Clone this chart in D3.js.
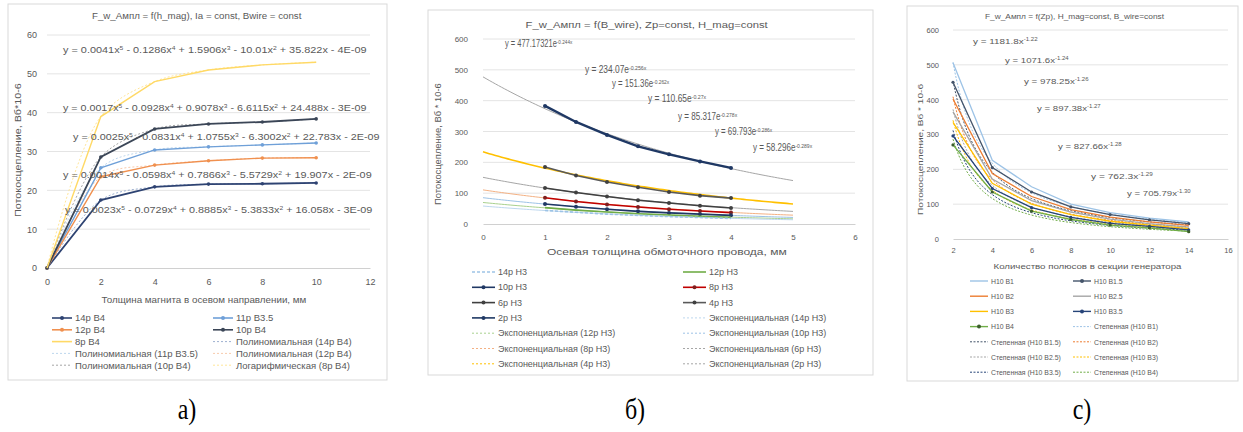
<!DOCTYPE html>
<html><head><meta charset="utf-8">
<script src="https://cdn.jsdelivr.net/npm/d3@7"></script>
<style>
body{margin:0;background:#fff;}
svg{display:block;}
text{white-space:pre;}
</style>
</head><body>
<svg id="chart" width="1243" height="432"></svg>
<script>
// ---------------- DATA ----------------
// Panel a
const aTitle = "F_w_Aмпл = f(h_mag), Ia = const, Bwire = const";
const aXTitle = "Толщина магнита в осевом направлении, мм";
const aYTitle = "Потокосцепление, Вб*10-6";
const aXTicks = [0, 2, 4, 6, 8, 10, 12];
const aYTicks = [0, 10, 20, 30, 40, 50, 60];
const aX = [0, 2, 4, 6, 8, 10];
const aNames = ["14р В4", "11р В3.5", "12р В4", "10р В4", "8р В4"];
const a14 = [0, 17.5, 20.9, 21.6, 21.7, 21.9];
const a11 = [0, 25.8, 30.4, 31.2, 31.7, 32.2];
const a12 = [0, 23.5, 26.5, 27.6, 28.3, 28.4];
const a10 = [0, 28.6, 35.8, 37.1, 37.6, 38.4];
const a8  = [0, 39.0, 48.0, 51.0, 52.3, 53.0];
const aTrendNames = ["Полиномиальная (14р В4)", "Полиномиальная (11р В3.5)", "Полиномиальная (12р В4)", "Полиномиальная (10р В4)", "Логарифмическая (8р В4)"];
const aEquations = [
  "y = 0.0041x^5 - 0.1286x^4 + 1.5906x^3 - 10.01x^2 + 35.822x - 4E-09",
  "y = 0.0017x^5 - 0.0928x^4 + 0.9078x^3 - 6.6115x^2 + 24.488x - 3E-09",
  "y = 0.0025x^5 - 0.0831x^4 + 1.0755x^3 - 6.3002x^2 + 22.783x - 2E-09",
  "y = 0.0014x^5 - 0.0598x^4 + 0.7866x^3 - 5.5729x^2 + 19.907x - 2E-09",
  "y = 0.0023x^5 - 0.0729x^4 + 0.8885x^3 - 5.3833x^2 + 16.058x - 3E-09"
];

// Panel b
const bTitle = "F_w_Aмпл = f(B_wire), Zp=const, H_mag=const";
const bXTitle = "Осевая толщина обмоточного провода, мм";
const bYTitle = "Потокосцепление, Вб * 10-6";
const bXTicks = [0, 1, 2, 3, 4, 5, 6];
const bYTicks = [0, 100, 200, 300, 400, 500, 600];
const bX = [1, 1.5, 2, 2.5, 3, 3.5, 4];
const bNames = ["2р Н3", "4р Н3", "6р Н3", "8р Н3", "10р Н3", "12р Н3", "14р Н3"];
const b2p  = [383, 331, 289, 252, 226, 203, 182];
const b4p  = [185, 157, 136, 119, 104, 92, 84];
const b6p  = [117, 102, 89, 77, 68, 59, 52];
const b8p  = [85, 73, 63, 55, 48, 42, 37];
const b10p = [65, 56, 48, 41, 36, 32, 28];
const b12p = [53, 45, 39, 33, 29, 25, 22];
const b14p = [44, 38, 32, 28, 24, 21, 18];
const bExpA = [477.17321, 234.07, 151.36, 110.65, 85.317, 69.793, 58.296];
const bExpK = [-0.244, -0.256, -0.262, -0.27, -0.278, -0.286, -0.289];
const bEquations = [
  "y = 477.17321e^-0.244x", "y = 234.07e^-0.256x", "y = 151.36e^-0.262x",
  "y = 110.65e^-0.27x", "y = 85.317e^-0.278x", "y = 69.793e^-0.286x", "y = 58.296e^-0.289x"
];

// Panel c
const cTitle = "F_w_Aмпл = f(Zp), H_mag=const, B_wire=const";
const cXTitle = "Количество полюсов в секции генератора";
const cYTitle = "Потокосцепление, Вб * 10-6";
const cXTicks = [2, 4, 6, 8, 10, 12, 14, 16];
const cYTicks = [0, 100, 200, 300, 400, 500, 600];
const cX = [2, 4, 6, 8, 10, 12, 14];
const cNames = ["Н10 В1", "Н10 В1.5", "Н10 В2", "Н10 В2.5", "Н10 В3", "Н10 В3.5", "Н10 В4"];
const cB1  = [506, 226, 150, 100, 76, 60, 49];
const cB15 = [450, 205, 135, 92, 70, 55, 44];
const cB2  = [402, 188, 122, 84, 63, 49, 39];
const cB25 = [365, 172, 110, 77, 57, 44, 34];
const cB3  = [335, 160, 100, 70, 51, 40, 30];
const cB35 = [296, 145, 90, 62, 45, 36, 26];
const cB4  = [270, 135, 80, 56, 40, 32, 21];
const cPowA = [1181.8, 1071.6, 978.25, 897.38, 827.66, 762.3, 705.79];
const cPowB = [-1.22, -1.24, -1.26, -1.27, -1.28, -1.29, -1.30];
const cEquations = [
  "y = 1181.8x^-1.22", "y = 1071.6x^-1.24", "y = 978.25x^-1.26", "y = 897.38x^-1.27",
  "y = 827.66x^-1.28", "y = 762.3x^-1.29", "y = 705.79x^-1.30"
];

const panelLabels = ["а)", "б)", "с)"];

// ---------------- DRAWING ----------------
const svg = d3.select("#chart");
const FONT = "'Liberation Sans', Arial, sans-serif";
const TXT = "#595959";

function richText(parent, str, fs, plain) {
  const t = parent.append("text").attr("font-family", FONT).attr("font-size", fs).attr("fill", TXT);
  if (plain) { t.text(str); return t; }
  const parts = str.split(/\^([^\s]+)/);
  parts.forEach((p, i) => {
    if (!p) return;
    const ts = t.append("tspan").text(p);
    if (i % 2 === 1) ts.attr("baseline-shift", "super").attr("font-size", fs * 0.62);
  });
  return t;
}
function fitText(parent, str, fs, x, y, w, anchor, plain) {
  const g = parent.append("g");
  const t = richText(g, str, fs, plain);
  const bw = t.node().getBBox().width;
  const s = w / bw;
  const x0 = anchor === "middle" ? x - w / 2 : x;
  g.attr("transform", `translate(${x0},${y}) scale(${s},1)`);
  return g;
}

function drawPanel(p) {
  const g = svg.append("g");
  g.append("rect").attr("x", p.frame[0]).attr("y", p.frame[1]).attr("width", p.frame[2]).attr("height", p.frame[3])
    .attr("fill", "#fff").attr("stroke", "#d9d9d9");
  const x = d3.scaleLinear().domain(p.xDomain).range(p.xRange);
  const y = d3.scaleLinear().domain(p.yDomain).range(p.yRange);

  g.append("g").selectAll("line").data(p.yTicks.slice(1)).join("line")
    .attr("x1", x(p.xDomain[0])).attr("x2", x(p.xDomain[1]))
    .attr("y1", d => y(d)).attr("y2", d => y(d)).attr("stroke", "#e4e4e4").attr("stroke-width", 1);

  const ya = g.append("g").attr("transform", `translate(${x(p.xDomain[0])},0)`)
    .call(d3.axisLeft(y).tickValues(p.yTicks).tickSize(0).tickPadding(p.yPad).tickFormat(d3.format("d")));
  ya.select(".domain").remove();
  const xa = g.append("g").attr("transform", `translate(0,${y(p.yDomain[0])})`)
    .call(d3.axisBottom(x).tickValues(p.xTicks).tickSize(0).tickPadding(p.xPad).tickFormat(d3.format("d")));
  xa.select(".domain").attr("stroke", "#d0d0d0");
  g.selectAll(".tick text").attr("font-family", FONT).attr("font-size", p.tickFs).attr("fill", TXT);

  // titles
  fitText(g, p.title, p.titleFs, p.titlePos[0], p.titlePos[1], p.titlePos[2], "middle", true);
  fitText(g, p.xTitle, p.axisFs, p.xTitlePos[0], p.xTitlePos[1], p.xTitlePos[2], "middle", true);
  const yt = g.append("g").attr("transform", `translate(${p.yTitlePos[0]},${p.yTitlePos[1]}) rotate(-90)`);
  fitText(yt, p.yTitle, p.axisFs, 0, 0, p.yTitlePos[2], "middle", true);

  // trendlines
  const line = d3.line().x(d => x(d[0])).y(d => y(d[1]));
  p.trends.forEach(tr => {
    g.append("path").attr("d", line.curve(tr.curve || d3.curveLinear)(tr.pts))
      .attr("fill", "none").attr("stroke", tr.color).attr("stroke-width", tr.w)
      .attr("stroke-dasharray", tr.dash || null);
  });
  // series
  p.series.forEach(s => {
    const pts = s.xs.map((xx, i) => [xx, s.vals[i]]);
    g.append("path").attr("d", line.curve(s.curve || d3.curveLinear)(pts))
      .attr("fill", "none").attr("stroke", s.color).attr("stroke-width", s.w)
      .attr("stroke-dasharray", s.dash || null);
    if (s.marker) {
      g.append("g").selectAll("circle").data(pts).join("circle")
        .attr("cx", d => x(d[0])).attr("cy", d => y(d[1])).attr("r", s.r || 2)
        .attr("fill", s.marker);
    }
  });
  // equations
  p.equations.forEach((e, i) => {
    const pos = p.eqPos[i];
    fitText(g, e, p.eqFs, pos[0], pos[1], pos[2], "start", false);
  });
  // legend
  p.legend.forEach((it, i) => {
    const col = i % 2, row = Math.floor(i / 2);
    const lx = p.legCols[col], ly = p.legY0 + row * p.legDy;
    g.append("line").attr("x1", lx).attr("x2", lx + p.legLen).attr("y1", ly).attr("y2", ly)
      .attr("stroke", it.color).attr("stroke-width", it.w).attr("stroke-dasharray", it.dash || null);
    if (it.marker) g.append("circle").attr("cx", lx + p.legLen / 2).attr("cy", ly).attr("r", 2).attr("fill", it.marker);
    const t = g.append("text").attr("x", lx + p.legLen + 3).attr("y", ly).attr("dy", "0.35em")
      .attr("font-family", FONT).attr("font-size", p.legFs).attr("fill", TXT).text(it.name);
    const w = t.node().getComputedTextLength();
    t.attr("textLength", w * p.legSx).attr("lengthAdjust", "spacingAndGlyphs");
  });
}

// ---- panel a ----
const aColors = ["#2E4372", "#6FA0D8", "#F0904F", "#3B4657", "#FFD966"];
const aTrendColors = ["#9DB0D0", "#BDD7EE", "#F8CBAD", "#A6A6A6", "#FFE699"];
const aVals = [a14, a11, a12, a10, a8];
const aMarkers = ["#2E4372", "#6FA0D8", "#F0904F", "#3B4657", null];
drawPanel({
  frame: [8, 4, 379, 376],
  xDomain: [0, 12], xRange: [47, 370], yDomain: [0, 60], yRange: [268, 35],
  xTicks: aXTicks, yTicks: aYTicks, tickFs: 9, yPad: 10, xPad: 11,
  title: aTitle, titleFs: 9, titlePos: [197, 19, 210],
  xTitle: aXTitle, yTitle: aYTitle, axisFs: 9, xTitlePos: [204, 303, 205], yTitlePos: [21, 150, 134],
  trends: aVals.map((v, i) => ({ pts: aX.map((xx, j) => [xx, v[j]]), color: aTrendColors[i], w: 1, dash: "2,2", curve: d3.curveCatmullRom })),
  series: aVals.map((v, i) => ({ xs: aX, vals: v, color: aColors[i], w: i === 0 || i === 3 ? 1.8 : 1.4, marker: aMarkers[i], r: 1.8 })),
  equations: aEquations, eqFs: 9,
  eqPos: [[63, 53, 304], [63, 111, 304], [73, 140, 307], [63, 178, 309], [65, 213, 308]],
  legend: [
    ...aNames.map((n, i) => ({ name: n, color: aColors[i], w: 1.6, marker: aMarkers[i] })),
    ...aTrendNames.map((n, i) => ({ name: n, color: aTrendColors[i], w: 1, dash: "2,2" }))
  ],
  legCols: [52, 213], legLen: 20, legY0: 318, legDy: 11.8, legFs: 9.5, legSx: 1.0
});

// ---- panel b ----
const bColors = ["#1F3864", "#595959", "#404040", "#C00000", "#203864", "#70AD47", "#9DC3E6"];
const bTrendColors = ["#A6A6A6", "#FFC000", "#A6A6A6", "#F4B183", "#9DC3E6", "#A9D18E", "#BDD7EE"];
const bVals = [b2p, b4p, b6p, b8p, b10p, b12p, b14p];
const bMarkers = ["#1F3864", "#404040", "#404040", "#7F1F1F", "#203864", null, null];
const bTrendX = d3.range(0, 5.001, 0.05);
drawPanel({
  frame: [428, 10, 445, 365],
  xDomain: [0, 6], xRange: [483, 855], yDomain: [0, 600], yRange: [224, 39],
  xTicks: bXTicks, yTicks: bYTicks, tickFs: 8, yPad: 15, xPad: 10,
  title: bTitle, titleFs: 9, titlePos: [647, 28, 243],
  xTitle: bXTitle, yTitle: bYTitle, axisFs: 9, xTitlePos: [667, 255, 240], yTitlePos: [441, 144, 122],
  trends: bExpA.map((A, i) => ({ pts: bTrendX.map(t => [t, A * Math.exp(bExpK[i] * t)]), color: bTrendColors[i], w: i === 1 ? 1.6 : 1 })),
  series: bVals.map((v, i) => ({ xs: bX, vals: v, color: bColors[i], w: i === 0 ? 2.4 : 1.6, marker: bMarkers[i], r: 2, dash: i === 6 ? "3,2" : null })),
  equations: bEquations, eqFs: 10,
  eqPos: [[505, 47, 68], [585, 73, 62], [612, 87, 58], [648, 102, 59], [678, 120, 60], [715, 135, 58], [753, 151, 60]],
  legend: [
    ["14р Н3", 6], ["12р Н3", 5], ["10р Н3", 4], ["8р Н3", 3], ["6р Н3", 2], ["4р Н3", 1], ["2р Н3", 0]
  ].map(([n, i]) => ({ name: n, color: bColors[i], w: 1.6, marker: bMarkers[i], dash: i === 6 ? "3,2" : null }))
   .concat(["14р Н3", "12р Н3", "10р Н3", "8р Н3", "6р Н3", "4р Н3", "2р Н3"].map(n => {
     const i = bNames.indexOf(n);
     return { name: "Экспоненциальная (" + n + ")", color: bTrendColors[i], w: 1, dash: "2,2" };
   })),
  legCols: [472, 683], legLen: 23, legY0: 272, legDy: 15.3, legFs: 9, legSx: 1.0
});

// ---- panel c ----
const cColors = ["#9DC3E6", "#44546A", "#ED7D31", "#A5A5A5", "#FFC000", "#264478", "#70AD47"];
const cVals = [cB1, cB15, cB2, cB25, cB3, cB35, cB4];
const cMarkers = [null, "#44546A", null, null, null, "#264478", "#3B5E2B"];
const cTrendX = d3.range(2, 14.001, 0.1);
drawPanel({
  frame: [907, 6, 331, 375],
  xDomain: [2, 16], xRange: [953, 1228], yDomain: [0, 600], yRange: [239, 30],
  xTicks: cXTicks, yTicks: cYTicks, tickFs: 7.5, yPad: 14, xPad: 9,
  title: cTitle, titleFs: 8, titlePos: [1075, 19, 180],
  xTitle: cXTitle, yTitle: cYTitle, axisFs: 8, xTitlePos: [1088, 269, 189], yTitlePos: [923, 149, 132],
  trends: cPowA.map((A, i) => ({ pts: cTrendX.map(t => [t, A * Math.pow(t, cPowB[i])]), color: cColors[i], w: 1, dash: "2,1.5" })),
  series: cVals.map((v, i) => ({ xs: cX, vals: v, color: cColors[i], w: 1.3, marker: cMarkers[i], r: 1.6 })),
  equations: cEquations, eqFs: 8,
  eqPos: [[973, 44, 65], [1005, 63, 64], [1024, 84, 65], [1037, 111, 64], [1058, 149, 64], [1091, 179, 62], [1127, 196, 64]],
  legend: cNames.map((n, i) => ({ name: n, color: cColors[i], w: 1.4, marker: cMarkers[i] }))
    .concat(cNames.map((n, i) => ({ name: "Степенная (" + n + ")", color: cColors[i], w: 1, dash: "2,1.5" }))),
  legCols: [970, 1073], legLen: 18, legY0: 281, legDy: 15.2, legFs: 8, legSx: 0.86
});

// panel captions
const capX = [187, 635, 1082];
panelLabels.forEach((lab, i) => {
  svg.append("text").attr("transform", `translate(${capX[i]},419) scale(0.8,1)`)
    .attr("text-anchor", "middle").attr("font-family", "'Liberation Serif', 'Times New Roman', serif")
    .attr("font-size", 30).attr("fill", "#000").text(lab);
});
</script>
</body></html>
